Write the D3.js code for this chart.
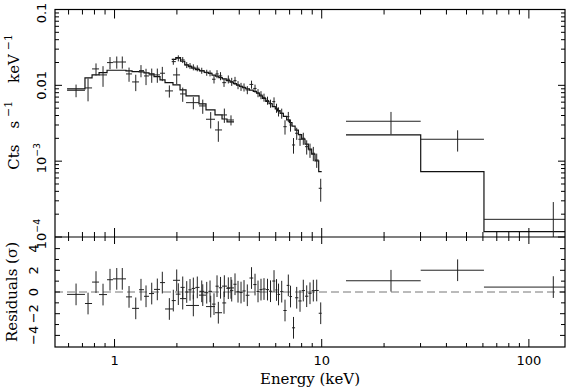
<!DOCTYPE html>
<html><head><meta charset="utf-8">
<script src="https://cdn.jsdelivr.net/npm/d3@7"></script>
<style>body{margin:0;background:#fff}svg{display:block}</style>
</head><body><svg id="c" width="566" height="388"></svg>
<script>
// ---- Series A (soft spectrum, ~0.6-3.8 keV) ----
const aEdges = [0.590,0.720,0.779,0.842,0.920,0.983,1.063,1.136,1.215,1.313,1.388,1.467,1.551,1.658,1.753,1.915,2.071,2.214,2.557,2.764,3.055,3.303,3.491,3.773];
const aEnergy = [0.652,0.745,0.814,0.880,0.951,1.025,1.090,1.175,1.266,1.342,1.419,1.512,1.609,1.701,1.839,1.996,2.134,2.401,2.666,2.912,3.170,3.389,3.649];
const aFlux = [0.0086,0.00924,0.01646,0.01372,0.01994,0.0203,0.0203,0.01414,0.01109,0.01563,0.0133,0.01372,0.01372,0.01444,0.00844,0.01372,0.0077,0.00591,0.00535,0.00357,0.00258,0.00407,0.00349];
const aErr = [0.00163,0.00309,0.0030,0.00417,0.00364,0.0037,0.0037,0.0030,0.0027,0.00285,0.00323,0.00292,0.00292,0.00307,0.00154,0.00334,0.00164,0.00108,0.00114,0.00087,0.00078,0.00087,0.00053];
const aModel = [0.00896,0.01252,0.01372,0.01471,0.01582,0.01582,0.01582,0.01549,0.01516,0.01503,0.01458,0.01414,0.01302,0.01178,0.01085,0.01012,0.0087,0.00725,0.00568,0.00474,0.00407,0.0036,0.00329];

// ---- Series B (2-10 keV spectrum) ----
const bEdgeLo = 1.888, bEdgeHi = 10.0;
const bEnergy = [1.922,2.032,2.134,2.231,2.314,2.401,2.509,2.636,2.786,2.890,3.021,3.124,3.248,3.377,3.542,3.678,3.815,3.945,4.079,4.217,4.375,4.584,4.766,4.927,5.093,5.266,5.475,5.661,5.886,6.052,6.188,6.411,6.651,6.900,7.071,7.310,7.574,7.858,8.151,8.464,8.780,9.110,9.460,9.890];
const bFlux = [0.02055,0.02278,0.02163,0.01858,0.01803,0.01733,0.01681,0.01563,0.01471,0.01444,0.01204,0.01414,0.0133,0.01085,0.01204,0.01119,0.01153,0.01012,0.00961,0.00944,0.0087,0.01028,0.0091,0.00794,0.00747,0.00693,0.00632,0.00577,0.0061,0.00503,0.0045,0.00428,0.00285,0.00387,0.003,0.001636,0.002334,0.001945,0.002005,0.001553,0.001405,0.001271,0.001037,0.000439];
const bErr = [0.00187,0.00208,0.00197,0.00169,0.00164,0.00158,0.00153,0.00143,0.00134,0.00132,0.00146,0.00172,0.00162,0.00132,0.00146,0.00136,0.0014,0.00123,0.00117,0.00115,0.00106,0.00125,0.00111,0.00097,0.00091,0.00084,0.00077,0.0007,0.00084,0.00069,0.00062,0.00065,0.00061,0.00059,0.00055,0.00038,0.000425,0.000354,0.000365,0.000331,0.000299,0.000271,0.000221,0.000147];
const bModel = [0.02203,0.02319,0.02079,0.01858,0.0177,0.01681,0.01616,0.01554,0.0148,0.01436,0.01367,0.01322,0.01267,0.01218,0.01153,0.01102,0.01053,0.01009,0.00967,0.00933,0.00902,0.00867,0.00834,0.00789,0.00727,0.0067,0.00615,0.00572,0.00525,0.0049,0.00464,0.00426,0.00389,0.00351,0.00323,0.00289,0.00256,0.002237,0.001957,0.001681,0.00144,0.001237,0.001006,0.000727];

// ---- Series H (hard X-ray bins) ----
const hEnergy = [21.6,45.3,131.2];
const hLo = [13.1,30.05,60.7];
const hHi = [30.05,60.7,200];
const hFlux = [0.00336,0.001945,0.000171];
const hErr = [0.0011,0.000607,0.000118];
const hModel = [0.00222,0.000727,0.0001175];

// ---- tick labels ----
const xMajor = [1,10,100];
const xMinor = [0.6,0.7,0.8,0.9,2,3,4,5,6,7,8,9,20,30,40,50,60,70,80,90];
const yMajor = [1e-4,1e-3,1e-2,0.1];
const yMinor = [2e-4,3e-4,4e-4,5e-4,6e-4,7e-4,8e-4,9e-4,2e-3,3e-3,4e-3,5e-3,6e-3,7e-3,8e-3,9e-3,0.02,0.03,0.04,0.05,0.06,0.07,0.08,0.09];
const rMajor = [-4,-2,0,2,4];
const rMinor = [-3,-1,1,3];

// ---- build bins ----
function binsFrom(energy, lo, hi, flux, err, model){
  return energy.map((e,i)=>({e, lo:lo[i], hi:hi[i], f:flux[i], s:err[i], m:model[i], r:(flux[i]-model[i])/err[i]}));
}
const A = binsFrom(aEnergy, aEdges.slice(0,-1), aEdges.slice(1), aFlux, aErr, aModel);
const bLo = bEnergy.map((e,i)=> i===0 ? bEdgeLo : Math.sqrt(bEnergy[i-1]*e));
const bHi = bEnergy.map((e,i)=> i===bEnergy.length-1 ? bEdgeHi : Math.sqrt(bEnergy[i+1]*e));
const B = binsFrom(bEnergy, bLo, bHi, bFlux, bErr, bModel);
const Hs = binsFrom(hEnergy, hLo, hHi, hFlux, hErr, hModel);
const allSeries = [A,B,Hs];

const L=55, R=565, T1=9.5, B1=237, T2=237, B2=347;
const x = d3.scaleLog().domain([0.516,149.4]).range([L,R]);
const y = d3.scaleLog().domain([1e-4,0.1]).range([B1,T1]);
const yr = d3.scaleLinear().domain([-5.07,5.07]).range([B2,T2]);

const svg = d3.select("#c");
const defs = svg.append("defs");
defs.append("clipPath").attr("id","c1").append("rect").attr("x",L).attr("y",T1).attr("width",R-L).attr("height",B1-T1);
defs.append("clipPath").attr("id","c2").append("rect").attr("x",L).attr("y",T2).attr("width",R-L).attr("height",B2-T2);

const gTop = svg.append("g").attr("clip-path","url(#c1)");
const gBot = svg.append("g").attr("clip-path","url(#c2)");
const ySafe = v => y(Math.max(v, 1e-6));

// model step lines
const step = d3.line().x(d=>x(d[0])).y(d=>y(d[1]));
allSeries.forEach(S=>{
  const pts=[];
  S.forEach(d=>{pts.push([d.lo,d.m]);pts.push([d.hi,d.m]);});
  gTop.append("path").attr("d",step(pts)).attr("fill","none").attr("stroke","#111").attr("stroke-width",1.2);
});

// data crosses
allSeries.forEach(S=>{
  const g = gTop.append("g").attr("stroke","#222").attr("stroke-width",1);
  g.selectAll("line.h").data(S).join("line").attr("class","h")
    .attr("x1",d=>x(d.lo)).attr("x2",d=>x(d.hi)).attr("y1",d=>y(d.f)).attr("y2",d=>y(d.f));
  g.selectAll("line.v").data(S).join("line").attr("class","v")
    .attr("x1",d=>x(d.e)).attr("x2",d=>x(d.e)).attr("y1",d=>ySafe(d.f-d.s)).attr("y2",d=>y(d.f+d.s));
});

// residual zero line
gBot.append("line").attr("x1",L).attr("x2",R).attr("y1",yr(0)).attr("y2",yr(0))
  .attr("stroke","#777").attr("stroke-width",1).attr("stroke-dasharray","8,4");

// residual crosses
allSeries.forEach(S=>{
  const g = gBot.append("g").attr("stroke","#222").attr("stroke-width",1);
  g.selectAll("line.h").data(S).join("line").attr("class","h")
    .attr("x1",d=>x(d.lo)).attr("x2",d=>x(d.hi)).attr("y1",d=>yr(d.r)).attr("y2",d=>yr(d.r));
  g.selectAll("line.v").data(S).join("line").attr("class","v")
    .attr("x1",d=>x(d.e)).attr("x2",d=>x(d.e)).attr("y1",d=>yr(d.r-1)).attr("y2",d=>yr(d.r+1));
});

// frame
const ax = svg.append("g").attr("stroke","#000").attr("fill","none");
ax.append("rect").attr("x",L).attr("y",T1).attr("width",R-L).attr("height",B2-T1).attr("stroke-width",1.2);
ax.append("line").attr("x1",L).attr("x2",R).attr("y1",B1).attr("y2",B1).attr("stroke-width",1.2);

function xt(vals, y0, len){ vals.forEach(v=>ax.append("line").attr("x1",x(v)).attr("x2",x(v)).attr("y1",y0).attr("y2",y0+len)); }
function yt(scale, vals, len){ vals.forEach(v=>{
  ax.append("line").attr("x1",L).attr("x2",L+len).attr("y1",scale(v)).attr("y2",scale(v));
  ax.append("line").attr("x1",R).attr("x2",R-len).attr("y1",scale(v)).attr("y2",scale(v));
});}
xt(xMajor,T1,9); xt(xMinor,T1,5); xt(xMajor,B1,-9); xt(xMinor,B1,-5);
xt(xMajor,T2,7); xt(xMinor,T2,4); xt(xMajor,B2,-8); xt(xMinor,B2,-4);
yt(y,yMajor,7); yt(y,yMinor,4);
yt(yr,rMajor,5); yt(yr,rMinor,4);

// labels
const sans = "DejaVu Sans, sans-serif", serif = "DejaVu Serif, serif";
const tl = svg.append("g").attr("fill","#000");
xMajor.forEach(v=>tl.append("text").attr("x",x(v)).attr("y",365).attr("text-anchor","middle")
  .attr("font-family",sans).attr("font-size",13).text(String(v)));

// parts: {t, sup, dx}
function rotLabel(xb, yc, parts, fam, size){
  const t = tl.append("text").attr("transform",`translate(${xb},${yc}) rotate(-90)`)
    .attr("text-anchor","middle").attr("font-family",fam).attr("font-size",size);
  let shifted = 0;
  parts.forEach(p=>{
    const target = p.sup ? -Math.round(size*0.45) : 0;
    const ts = t.append("tspan").attr("dy", target - shifted).text(p.t);
    if(p.dx) ts.attr("dx", p.dx);
    if(p.sup) ts.attr("font-size", size*0.72);
    shifted = target;
  });
  return t;
}
const yLabelText = [[{t:"10"},{t:"−4",sup:true}],[{t:"10"},{t:"−3",sup:true}],[{t:"0.01"}],[{t:"0.1"}]];
yMajor.forEach((v,i)=>{
  const yc = i===3 ? 13 : (i<2 ? y(v)-3 : y(v));
  rotLabel(46, yc, yLabelText[i], sans, 13);
});
rMajor.forEach(v=>rotLabel(38, yr(v), [{t: v<0 ? "−"+Math.abs(v) : String(v)}], sans, 13));

// axis titles
svg.append("text").attr("x",(L+R)/2).attr("y",384).attr("text-anchor","middle")
  .attr("font-family",serif).attr("font-size",15).text("Energy (keV)");
rotLabel(19, 102, [{t:"Cts"},{t:"s",dx:16},{t:"−1",sup:true,dx:4},{t:"keV",dx:18},{t:"−1",sup:true,dx:4}], serif, 15);
rotLabel(17, 292, [{t:"Residuals (σ)"}], serif, 15);
</script></body></html>
